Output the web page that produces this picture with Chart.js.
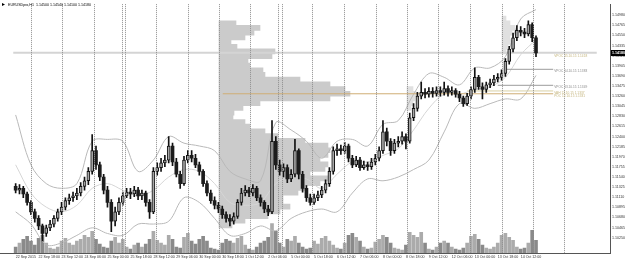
<!DOCTYPE html>
<html><head><meta charset="utf-8">
<script src="https://cdn.jsdelivr.net/npm/chart.js@4.4.0/dist/chart.umd.min.js"></script>
<style>html,body{margin:0;padding:0;background:#fff;overflow:hidden}#wrap{width:625px;height:261px;position:relative}</style>
</head><body><div id="wrap"><canvas id="c" width="625" height="261"></canvas></div>
<script>
const symbolName = 'EURUSDpro,H1';

const open = [1.1134,1.1126,1.1130,1.1118,1.1100,1.1080,1.1066,1.1050,1.1034,1.1046,
1.1054,1.1066,1.1080,1.1090,1.1104,1.1110,1.1114,1.1120,1.1134,1.1146,
1.1166,1.1210,1.1180,1.1154,1.1126,1.1100,1.1060,1.1080,1.1100,1.1114,
1.1122,1.1118,1.1126,1.1114,1.1120,1.1100,1.1080,1.1166,1.1174,1.1184,
1.1190,1.1220,1.1186,1.1160,1.1140,1.1190,1.1200,1.1194,1.1180,1.1166,
1.1140,1.1120,1.1104,1.1094,1.1086,1.1074,1.1066,1.1060,1.1070,1.1100,
1.1120,1.1126,1.1120,1.1130,1.1110,1.1100,1.1086,1.1080,1.1230,1.1180,
1.1166,1.1174,1.1150,1.1160,1.1210,1.1160,1.1130,1.1110,1.1100,1.1110,
1.1116,1.1126,1.1140,1.1166,1.1210,1.1214,1.1210,1.1220,1.1194,1.1180,
1.1190,1.1174,1.1180,1.1176,1.1186,1.1194,1.1210,1.1250,1.1230,1.1210,
1.1226,1.1230,1.1240,1.1230,1.1280,1.1300,1.1326,1.1334,1.1330,1.1336,
1.1332,1.1338,1.1334,1.1342,1.1334,1.1338,1.1330,1.1322,1.1310,1.1326,
1.1340,1.1366,1.1346,1.1340,1.1350,1.1354,1.1362,1.1366,1.1374,1.1400,
1.1426,1.1450,1.1466,1.1462,1.1458,1.1478,1.1450];
const high = [1.1140,1.1138,1.1134,1.1122,1.1104,1.1086,1.1072,1.1054,1.1052,1.1062,
1.1072,1.1086,1.1100,1.1110,1.1118,1.1122,1.1130,1.1142,1.1154,1.1174,
1.1244,1.1220,1.1186,1.1160,1.1134,1.1106,1.1090,1.1110,1.1122,1.1130,
1.1130,1.1134,1.1132,1.1126,1.1124,1.1106,1.1174,1.1184,1.1194,1.1200,
1.1240,1.1226,1.1194,1.1166,1.1198,1.1210,1.1210,1.1202,1.1186,1.1170,
1.1146,1.1126,1.1112,1.1100,1.1092,1.1080,1.1074,1.1078,1.1106,1.1130,
1.1136,1.1132,1.1138,1.1134,1.1116,1.1104,1.1094,1.1274,1.1240,1.1190,
1.1182,1.1180,1.1170,1.1234,1.1214,1.1166,1.1136,1.1118,1.1118,1.1124,
1.1134,1.1148,1.1174,1.1218,1.1224,1.1222,1.1228,1.1224,1.1200,1.1198,
1.1196,1.1188,1.1186,1.1194,1.1202,1.1218,1.1274,1.1258,1.1236,1.1234,
1.1240,1.1250,1.1246,1.1290,1.1310,1.1334,1.1356,1.1342,1.1344,1.1344,
1.1346,1.1346,1.1356,1.1348,1.1346,1.1342,1.1336,1.1326,1.1332,1.1346,
1.1386,1.1370,1.1354,1.1356,1.1362,1.1370,1.1374,1.1382,1.1406,1.1432,
1.1460,1.1476,1.1474,1.1470,1.1486,1.1482,1.1454];
const low = [1.1120,1.1118,1.1110,1.1094,1.1074,1.1058,1.1042,1.1018,1.1028,1.1040,
1.1048,1.1060,1.1074,1.1084,1.1096,1.1102,1.1106,1.1114,1.1126,1.1138,
1.1160,1.1170,1.1146,1.1118,1.1090,1.1038,1.1050,1.1074,1.1094,1.1110,
1.1108,1.1112,1.1106,1.1106,1.1092,1.1066,1.1076,1.1158,1.1166,1.1176,
1.1184,1.1178,1.1154,1.1130,1.1136,1.1184,1.1186,1.1174,1.1158,1.1134,
1.1114,1.1098,1.1086,1.1078,1.1066,1.1058,1.1050,1.1054,1.1066,1.1094,
1.1114,1.1112,1.1114,1.1104,1.1092,1.1078,1.1072,1.1076,1.1170,1.1158,
1.1154,1.1142,1.1144,1.1154,1.1150,1.1122,1.1102,1.1094,1.1096,1.1104,
1.1110,1.1120,1.1134,1.1160,1.1200,1.1202,1.1204,1.1186,1.1174,1.1176,
1.1168,1.1170,1.1168,1.1170,1.1180,1.1188,1.1204,1.1220,1.1200,1.1204,
1.1218,1.1224,1.1214,1.1226,1.1274,1.1294,1.1320,1.1322,1.1324,1.1324,
1.1326,1.1326,1.1328,1.1326,1.1328,1.1324,1.1314,1.1304,1.1306,1.1320,
1.1334,1.1340,1.1320,1.1334,1.1344,1.1348,1.1356,1.1360,1.1368,1.1394,
1.1420,1.1444,1.1454,1.1450,1.1454,1.1442,1.1410];
const close = [1.1126,1.1130,1.1118,1.1100,1.1080,1.1066,1.1050,1.1034,1.1046,1.1054,
1.1066,1.1080,1.1090,1.1104,1.1110,1.1114,1.1120,1.1134,1.1146,1.1166,
1.1210,1.1180,1.1154,1.1126,1.1100,1.1060,1.1080,1.1100,1.1114,1.1122,
1.1118,1.1126,1.1114,1.1120,1.1100,1.1080,1.1166,1.1174,1.1184,1.1190,
1.1220,1.1186,1.1160,1.1140,1.1190,1.1200,1.1194,1.1180,1.1166,1.1140,
1.1120,1.1104,1.1094,1.1086,1.1074,1.1066,1.1060,1.1070,1.1100,1.1120,
1.1126,1.1120,1.1130,1.1110,1.1100,1.1086,1.1080,1.1230,1.1180,1.1166,
1.1174,1.1150,1.1160,1.1210,1.1160,1.1130,1.1110,1.1100,1.1110,1.1116,
1.1126,1.1140,1.1166,1.1210,1.1214,1.1210,1.1220,1.1194,1.1180,1.1190,
1.1174,1.1180,1.1176,1.1186,1.1194,1.1210,1.1250,1.1230,1.1210,1.1226,
1.1230,1.1240,1.1230,1.1280,1.1300,1.1326,1.1334,1.1330,1.1336,1.1332,
1.1338,1.1334,1.1342,1.1334,1.1338,1.1330,1.1322,1.1310,1.1326,1.1340,
1.1366,1.1346,1.1340,1.1350,1.1354,1.1362,1.1366,1.1374,1.1400,1.1426,
1.1450,1.1466,1.1462,1.1458,1.1478,1.1450,1.1418];
const volume = [600,1000,1400,1700,1200,800,1500,1800, 1000,500,400,600,1200,1500,1000,800,
1200,1400,1800,1600,2200,1400,900,600, 500,1200,1600,1000,1400,600,400,800,
1000,600,900,1400,2200,1300,1000,800, 1800,1400,600,500,1600,2000,1200,900,
1400,1700,1200,500,400,300,1000,1400, 1200,1000,1500,1700,800,400,300,600,
1000,1200,1600,3000,2200,1000,600,1400, 1200,1700,1000,600,400,500,1200,900,
1500,1700,1200,800,500,400,1000,1800, 2000,1600,1200,600,400,500,1100,1400,
1800,1600,1000,500,400,300,800,2100, 1800,1600,2100,1000,400,300,600,1000,
1200,1000,600,400,300,500,1000,1700, 1900,1400,800,500,400,600,1000,1800,
2000,1600,1300,600,400,500,1000,2300, 1300];

// Bollinger band samples (bar index, upper, middle, lower)
const bandBars = [0,4,8,12,16,20,24,28,32,36,40,44,48,52,56,60,64,68,72,76,80,84,88,92,96,100,104,108,112,116,120,124,128,132,136];
const bandUpper = [1.1286,1.1180,1.1140,1.1130,1.1140,1.1230,1.1234,1.1230,1.1166,1.1190,1.1240,1.1226,1.1220,1.1210,1.1166,1.1150,1.1146,1.1270,1.1254,1.1230,1.1194,1.1230,1.1234,1.1220,1.1266,1.1274,1.1330,1.1374,1.1366,1.1350,1.1386,1.1386,1.1410,1.1490,1.1510];
const bandMiddle = [1.1180,1.1120,1.1090,1.1080,1.1094,1.1130,1.1140,1.1126,1.1114,1.1126,1.1154,1.1170,1.1166,1.1140,1.1100,1.1094,1.1100,1.1140,1.1154,1.1150,1.1130,1.1160,1.1186,1.1186,1.1200,1.1214,1.1254,1.1300,1.1330,1.1330,1.1340,1.1346,1.1366,1.1414,1.1446];
const bandLower = [1.1080,1.1054,1.1010,1.1014,1.1030,1.1046,1.1034,1.1030,1.1054,1.1054,1.1060,1.1110,1.1100,1.1066,1.1030,1.1034,1.1050,1.1040,1.1066,1.1080,1.1086,1.1080,1.1120,1.1150,1.1146,1.1154,1.1170,1.1190,1.1250,1.1310,1.1300,1.1310,1.1320,1.1320,1.1370];

// Volume profile (price bins)
const profilePrices = [1.1481,1.1471,1.1461,1.1451,1.1441,1.1431,1.1421,1.1411,1.1401,1.1391,1.1381,1.1371,1.1361,1.1351,1.1341,1.1331,1.1321,1.1311,1.1301,1.1291,1.1281,1.1271,1.1261,1.1251,1.1241,1.1231,1.1221,1.1211,1.1201,1.1191,1.1181,1.1171,1.1161,1.1151,1.1141,1.1131,1.1121,1.1111,1.1101,1.1091,1.1081,1.1071,1.1061,1.1051];
const profileVolume = [17,41,35,26,12,18,56,53,29,31,44,46,81,111,126,131,111,41,24,15,14,26,31,46,59,86,109,111,109,101,109,106,91,111,101,86,79,64,64,71,61,49,26,13];
const profile2Prices = [1.1491,1.1481,1.1471,1.1461,1.1451,1.1441,1.1431,1.1421];
const profile2Volume = [4,8,13,10,8,12,6,4];
const profile3Prices = [1.1341,1.1331,1.1321,1.1311,1.1301];
const profile3Volume = [6,9,8,6,4];

// Horizontal levels
const levelPrices = [1.1383,1.1349,1.1337,1.1331];
const levelFrom = [128,126,118,54.125];
const levelTo = [140.5,140.5,140.5,140.5];
const levelNames = ['VPOC 14.10.15','VPOC 13.10.15','VAH 12.10.15','POC 12.10.15'];
const currentName = 'VPOC 15.10.15';

const priceTicks = [1.14980,1.14765,1.14550,1.14335,1.14120,1.13905,1.13690,1.13475,1.13260,1.13045,1.12830,1.12615,1.12400,1.12185,1.11970,1.11755,1.11540,1.11325,1.11110,1.10895,1.10680,1.10465,1.10250];
const gridBars = [7.125,14.875,22.875,29.875,30.625,38.375,46.375,54.125,61.875,68.875,69.875,77.625,85.375,93.375,101.125,108.875,117.125,124.875,132.625,140.375];
const dateBars = [0,6,12,18,24,30,36,42,48,54,60,66,72,78,84,90,96,102,108,114,120,126,132];
const dateLabels = ['22 Sep 2015','22 Sep 18:00','23 Sep 12:00','24 Sep 06:00','25 Sep 00:00','25 Sep 18:00','28 Sep 12:00','29 Sep 06:00','30 Sep 00:00','30 Sep 18:00','1 Oct 12:00','2 Oct 06:00','5 Oct 00:00','5 Oct 18:00','6 Oct 12:00','7 Oct 06:00','8 Oct 00:00','8 Oct 18:00','9 Oct 12:00','12 Oct 06:00','13 Oct 00:00','13 Oct 18:00','14 Oct 12:00'];

const X_MIN = -0.625, X_MAX = 151.875;
const N = close.length;
const last = close[N-1];
const FONT = 'Liberation Sans';
const fmt = v => v.toFixed(5);
const isBull = close.map((c,i)=> c >= open[i]);

const datasets = [];
datasets.push({type:'bar', label:'wicks', data: close.map((c,i)=>({x:i, y:[low[i], high[i]]})), xAxisID:'x', yAxisID:'y', backgroundColor:'#111', barThickness:1, grouped:false, order:1});
datasets.push({type:'bar', label:'bodies', data: close.map((c,i)=>({x:i, y:[open[i], c]})), xAxisID:'x', yAxisID:'y',
  backgroundColor: isBull.map(b=> b ? '#a6a6a6' : '#1c1c1c'), borderColor:'#111', borderWidth: isBull.map(b=> b ? 1 : 0), borderSkipped:false,
  barThickness:3, minBarLength:1, grouped:false, order:0});
datasets.push({type:'bar', label:'volume', data: volume.map((v,i)=>({x:i, y:v})), xAxisID:'x', yAxisID:'yv', backgroundColor: isBull.map(b=> b ? '#ababab' : '#8a8a8a'), barThickness:3, grouped:false, order:6});
datasets.push({type:'bar', label:'profile', indexAxis:'y', data: profilePrices.map((p,i)=>({x:[0, profileVolume[i]], y:p})), xAxisID:'xp', yAxisID:'y', backgroundColor:'#cbcbcb', barThickness:5, grouped:false, order:10});
datasets.push({type:'bar', label:'profile2', indexAxis:'y', data: profile2Prices.map((p,i)=>({x:[0, profile2Volume[i]], y:p})), xAxisID:'xp2', yAxisID:'y', backgroundColor:'#e0e0e0', barThickness:5, grouped:false, order:10});
datasets.push({type:'bar', label:'profile3', indexAxis:'y', data: profile3Prices.map((p,i)=>({x:[0, profile3Volume[i]], y:p})), xAxisID:'xp3', yAxisID:'y', backgroundColor:'#e0e0e0', barThickness:5, grouped:false, order:10});
[[bandUpper,'#b9b9b9'],[bandMiddle,'#d6d6d6'],[bandLower,'#b9b9b9']].forEach(([arr,col])=>{
  datasets.push({type:'line', data: arr.map((v,i)=>({x:bandBars[i], y:v})), xAxisID:'x', yAxisID:'y', borderColor:col, borderWidth:1, pointRadius:0, tension:0.35, fill:false, order:4});
});
const levelColors = ['#9c9c9c','#9c9c9c','#d9d0a4','#cfae74'];
levelPrices.forEach((p,i)=>{
  datasets.push({type:'line', data:[{x:levelFrom[i], y:p},{x:levelTo[i], y:p}], xAxisID:'x', yAxisID:'y', borderColor:levelColors[i], borderWidth:1, pointRadius:0, fill:false, order:3});
});
datasets.push({type:'line', data:[{x:X_MIN, y:last},{x:X_MAX, y:last}], xAxisID:'x', yAxisID:'y', borderColor:'#d4d4d4', borderWidth:2, pointRadius:0, fill:false, order:5});

const overlay = {
  id:'overlay',
  afterDraw(chart){
    const ctx = chart.ctx, y = chart.scales.y, area = chart.chartArea;
    ctx.save();
    ctx.fillStyle = '#000';
    ctx.beginPath(); ctx.moveTo(2,3); ctx.lineTo(5,4.5); ctx.lineTo(2,6); ctx.closePath(); ctx.fill();
    ctx.font = '3.6px ' + FONT; ctx.textBaseline = 'middle'; ctx.textAlign = 'left';
    ctx.fillText(symbolName + '  ' + [open[N-1],high[N-1],low[N-1],last].map(fmt).join(' '), 8, 4.8);
    ctx.font = '3.2px ' + FONT;
    const lx = chart.scales.x.getPixelForValue(levelTo[0]) + 1;
    ctx.fillStyle = '#c4b47c';
    ctx.fillText(currentName + ' ' + last.toFixed(4), lx, y.getPixelForValue(last) + 3);
    levelPrices.forEach((p,i)=>{
      ctx.fillStyle = i < 2 ? '#8a8a8a' : '#c4b47c';
      ctx.fillText(levelNames[i] + ' ' + p.toFixed(4), lx, y.getPixelForValue(p) + (i===3 ? 2.5 : 2.2));
    });
    const py = y.getPixelForValue(last);
    ctx.fillStyle = '#000';
    ctx.fillRect(area.right + 1, Math.round(py) - 3, 14, 6);
    ctx.fillStyle = '#fff'; ctx.font = 'bold 3.6px ' + FONT;
    ctx.fillText(fmt(last), area.right + 2, py);
    ctx.restore();
  }
};

new Chart(document.getElementById('c'), {
  data: {datasets},
  options: {
    responsive:false, maintainAspectRatio:false, animation:false, devicePixelRatio:1,
    layout:{padding:0},
    plugins:{legend:{display:false}, tooltip:{enabled:false}, title:{display:false}},
    scales:{
      x:{type:'linear', position:'bottom', min:X_MIN, max:X_MAX,
        afterBuildTicks: s => { s.ticks = dateBars.map(v=>({value:v})); },
        afterFit: s => { s.height = 8; },
        ticks:{autoSkip:false, maxRotation:0, minRotation:0, align:'start', padding:1.5, color:'#333', font:{size:3.6, family:FONT}, callback:(v,i)=>dateLabels[i]},
        grid:{display:false, drawTicks:false}, border:{display:true, color:'#555', width:1}},
      xg:{type:'linear', position:'bottom', min:X_MIN, max:X_MAX,
        afterBuildTicks: s => { s.ticks = gridBars.map(v=>({value:v})); },
        afterFit: s => { s.height = 0; },
        ticks:{display:false},
        grid:{display:true, drawTicks:false, color:'#8e8e8e', lineWidth:1, z:1},
        border:{display:false, dash:[1,1]}},
      y:{type:'linear', position:'right', min:1.1004, max:1.1510,
        afterBuildTicks: s => { s.ticks = priceTicks.map(v=>({value:v})); },
        afterFit: s => { s.width = 15; },
        ticks:{autoSkip:false, padding:2, color:'#333', font:{size:3.6, family:FONT}, callback:v=>fmt(v)},
        grid:{display:false, drawTicks:false}, border:{display:true, color:'#555', width:1}},
      yv:{type:'linear', display:false, min:0, max:25300},
      xp:{type:'linear', display:false, min:-219, max:391},
      xp2:{type:'linear', display:false, min:-502, max:108},
      xp3:{type:'linear', display:false, min:-407, max:203}
    }
  },
  plugins:[overlay]
});
</script>
</body></html>
